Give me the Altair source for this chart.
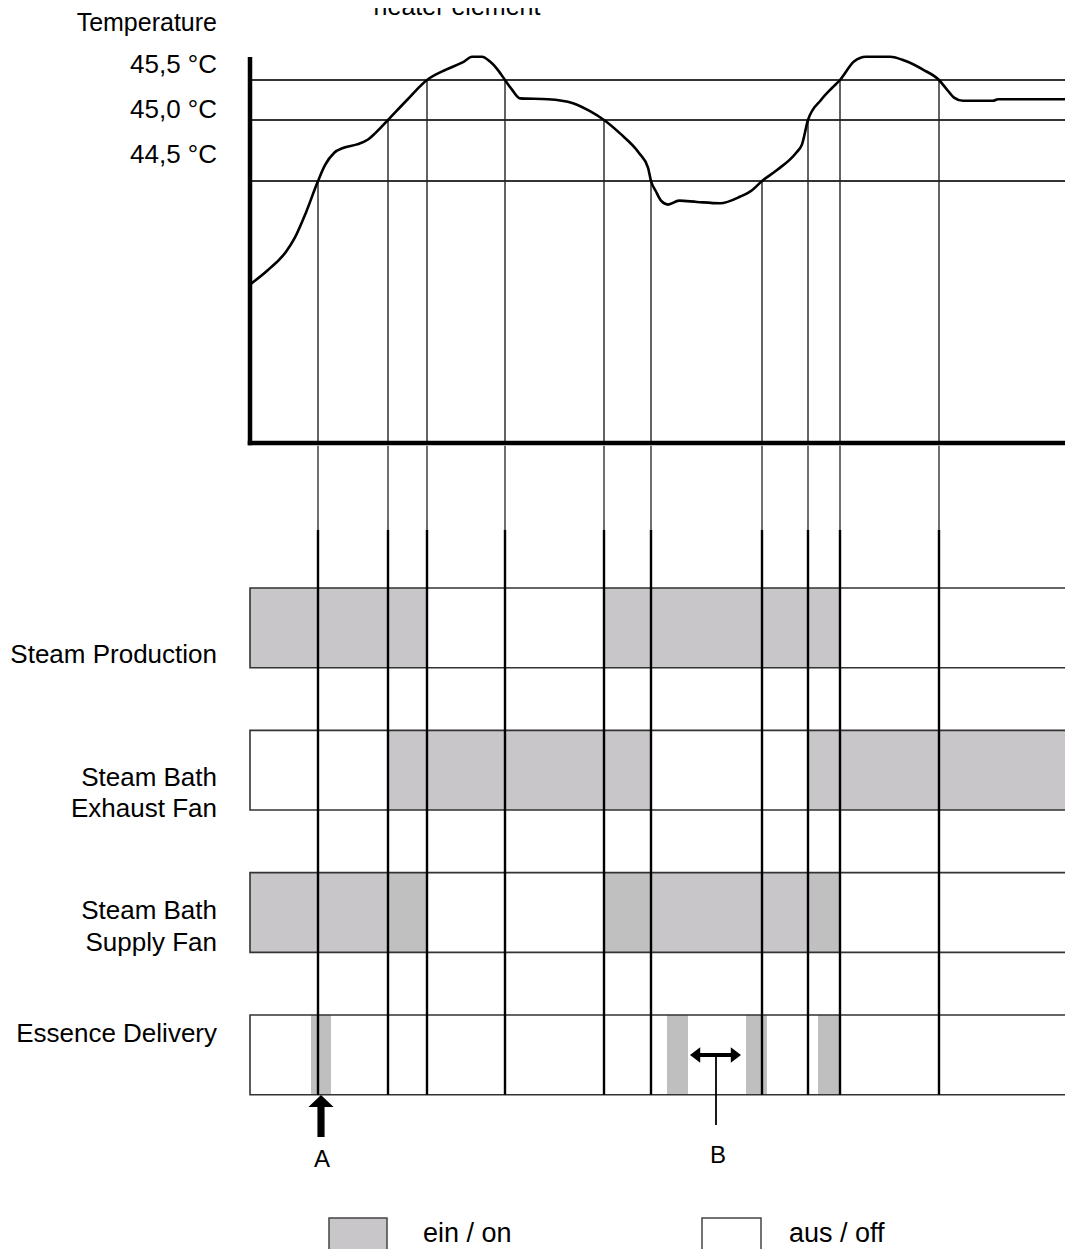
import altair as alt
import pandas as pd

# ---------------- data ----------------
# temperature curve: time (arbitrary units) and temperature in °C
curve_t = [0, 18, 36, 45, 56, 68, 75, 84, 93, 107, 118, 125, 138, 157, 177,
           196, 214, 222, 232, 240, 247, 255, 262, 270, 298, 323, 340, 354, 370, 389,
           398, 401, 406, 411, 418, 429, 447, 470, 490, 502, 512, 527, 546, 552, 558,
           571, 582, 590, 604, 616, 640, 655, 673, 689, 697, 704, 713, 743, 748, 823]
curve_temp = [43.71, 43.82, 43.96, 44.07, 44.26, 44.50, 44.63, 44.73, 44.77, 44.80,
              44.84, 44.89, 45.00, 45.25, 45.50, 45.63, 45.73, 45.79, 45.79, 45.73,
              45.64, 45.50, 45.38, 45.27, 45.26, 45.21, 45.11, 45.00, 44.89, 44.73,
              44.61, 44.50, 44.42, 44.35, 44.32, 44.35, 44.34, 44.33, 44.38, 44.43,
              44.50, 44.59, 44.73, 44.80, 45.00, 45.25, 45.40, 45.50, 45.73, 45.79,
              45.79, 45.74, 45.63, 45.50, 45.38, 45.28, 45.24, 45.24, 45.26, 45.26]

threshold_temps = [45.5, 45.0, 44.5]
threshold_labels = ["45,5 °C", "45,0 °C", "44,5 °C"]

# switching events (where the curve crosses a threshold)
event_t = [68, 138, 177, 255, 354, 401, 512, 558, 590, 689]
event_temp = [44.5, 45.0, 45.5, 45.5, 45.0, 44.5, 44.5, 45.0, 45.5, 45.5]

row_labels = [["Steam Production"], ["Steam Bath", "Exhaust Fan"],
              ["Steam Bath", "Supply Fan"], ["Essence Delivery"]]

# "on" segments of each row
seg_row = [0, 0, 1, 1, 2, 2, 2, 2, 2, 3, 3, 3, 3]
seg_start = [0, 354, 138, 558, 0, 138, 354, 401, 558, 61, 417, 496, 568]
seg_end = [177, 590, 401, 823, 138, 177, 401, 558, 590, 81, 438, 517, 590]
seg_tone = ["on", "on", "on", "on", "on", "on2", "on2", "on", "on2",
            "pulse", "pulse", "pulse", "pulse"]

legend_labels = ["ein / on", "aus / off"]
title_text = "Temperature"
top_text = "heater element"
marker_labels = ["A", "B"]

t_end = 823
temp_floor = 42.5
temp_axis_top = 45.76

# ---------------- scales ----------------
FONT = "Liberation Sans"
x_scale = alt.Scale(domain=[-242, 815], nice=False, zero=False)
temp_scale = alt.Scale(domain=[42.5, 44.5, 45.0, 45.5, 46.0],
                       range=[435, 173, 112, 72, 32], nice=False, zero=False)
lane_scale = alt.Scale(domain=[0, 4], range=[580, 1149.33], nice=False, zero=False)


def X(f):
    return alt.X(f, type="quantitative", scale=x_scale, axis=None)


def YT(f):
    return alt.Y(f, type="quantitative", scale=temp_scale, axis=None)


def YL(f):
    return alt.Y(f, type="quantitative", scale=lane_scale, axis=None)


# ---------------- tables ----------------
curve_df = pd.DataFrame({"t": curve_t, "temp": curve_temp})
grid_df = pd.DataFrame({"temp": threshold_temps, "t0": 0, "t1": t_end})
event_df = pd.DataFrame({"t": event_t, "temp": event_temp})
event_df["floor"] = temp_floor
event_df["la"] = -1.0
event_df["lb"] = -0.41
event_df["lc"] = 3.56
axis_df = pd.DataFrame({"t0": [0], "t1": [t_end], "lo": [temp_floor], "hi": [temp_axis_top]})
row_df = pd.DataFrame({"row": list(range(len(row_labels)))})
row_df["t0"] = 0
row_df["t1"] = t_end
row_df["top"] = row_df["row"]
row_df["bottom"] = row_df["row"] + 0.56
seg_df = pd.DataFrame({"row": seg_row, "t0": seg_start, "t1": seg_end, "tone": seg_tone})
seg_df["top"] = seg_df["row"]
seg_df["bottom"] = seg_df["row"] + 0.56

layers = []

# row backgrounds
layers.append(alt.Chart(row_df).mark_rect(color="white").encode(
    x=X("t0"), x2="t1:Q", y=YL("top"), y2="bottom:Q"))
# on segments
layers.append(alt.Chart(seg_df).mark_rect().encode(
    x=X("t0"), x2="t1:Q", y=YL("top"), y2="bottom:Q",
    color=alt.Color("tone:N", legend=None,
                    scale=alt.Scale(domain=["on", "on2", "pulse"],
                                    range=["#c9c6ca", "#c0c0c0", "#bfbfbf"]))))
# row outlines
layers.append(alt.Chart(row_df).mark_rect(fill="transparent", stroke="#333",
                                          strokeWidth=1.6).encode(
    x=X("t0"), x2="t1:Q", y=YL("top"), y2="bottom:Q"))

# threshold lines
layers.append(alt.Chart(grid_df).mark_rule(color="#333", strokeWidth=1.8).encode(
    x=X("t0"), x2="t1:Q", y=YT("temp")))
# event lines in the temperature plot
layers.append(alt.Chart(event_df).mark_rule(color="#222", strokeWidth=1.4).encode(
    x=X("t"), y=YT("temp"), y2="floor:Q"))
# temperature curve
layers.append(alt.Chart(curve_df).mark_line(color="black", strokeWidth=2.6,
                                            interpolate="monotone").encode(
    x=X("t"), y=YT("temp")))
# axes
layers.append(alt.Chart(axis_df).mark_rule(color="black", strokeWidth=4.5,
                                           strokeCap="square").encode(
    x=X("t0"), y=YT("lo"), y2="hi:Q"))
layers.append(alt.Chart(axis_df).mark_rule(color="black", strokeWidth=4.5,
                                           strokeCap="square").encode(
    x=X("t0"), x2="t1:Q", y=YT("lo")))
# event lines below the plot
layers.append(alt.Chart(event_df).mark_rule(color="#222", strokeWidth=1.3).encode(
    x=X("t"), y=YL("la"), y2="lb:Q"))
layers.append(alt.Chart(event_df).mark_rule(color="black", strokeWidth=2.4).encode(
    x=X("t"), y=YL("lb"), y2="lc:Q"))


def label(text, x, y, size=26, align="right", baseline="alphabetic"):
    return alt.Chart(pd.DataFrame({"s": [text]})).mark_text(
        align=align, baseline=baseline, fontSize=size, font=FONT, color="black"
    ).encode(x=alt.value(x), y=alt.value(y), text="s:N")


layers.append(label(top_text, 449, 7, size=25, align="center"))
layers.append(label(title_text, 209, 23, size=25))
for txt, yy in zip(threshold_labels, [65, 110, 155]):
    layers.append(label(txt, 209, yy))
row_label_y = [[655], [778, 809], [911, 943], [1034]]
for lines, ys in zip(row_labels, row_label_y):
    for txt, yy in zip(lines, ys):
        layers.append(label(txt, 209, yy))

# marker A: upward arrow
arrow_up = ("M-0.17,1 L-0.17,-0.43 L-0.6,-0.43 L0,-1 L0.6,-0.43 "
            "L0.17,-0.43 L0.17,1 Z")
layers.append(alt.Chart(pd.DataFrame({"k": [0]})).mark_point(
    shape=arrow_up, filled=True, color="black", opacity=1, size=1764).encode(
    x=alt.value(313), y=alt.value(1108)))
layers.append(label(marker_labels[0], 314, 1159, size=24, align="center"))

# marker B: double arrow with a leader line
arrow_lr = ("M-1,0 L-0.6,-0.3 L-0.6,-0.08 L0.6,-0.08 L0.6,-0.3 L1,0 "
            "L0.6,0.3 L0.6,0.08 L-0.6,0.08 L-0.6,0.3 Z")
layers.append(alt.Chart(pd.DataFrame({"k": [0]})).mark_rule(
    color="black", strokeWidth=1.8).encode(
    x=alt.value(708), y=alt.value(1048), y2=alt.value(1117)))
layers.append(alt.Chart(pd.DataFrame({"k": [0]})).mark_point(
    shape=arrow_lr, filled=True, color="black", opacity=1, size=2601).encode(
    x=alt.value(707.5), y=alt.value(1047)))
layers.append(label(marker_labels[1], 710, 1155, size=24, align="center"))

# legend
layers.append(alt.Chart(pd.DataFrame({"k": [0]})).mark_rect(
    fill="#c9c6ca", stroke="#444", strokeWidth=1.5).encode(
    x=alt.value(321), x2=alt.value(379), y=alt.value(1210), y2=alt.value(1262)))
layers.append(alt.Chart(pd.DataFrame({"k": [0]})).mark_rect(
    fill="white", stroke="#444", strokeWidth=1.5).encode(
    x=alt.value(694), x2=alt.value(753), y=alt.value(1210), y2=alt.value(1262)))
layers.append(label(legend_labels[0], 415, 1234, size=27, align="left"))
layers.append(label(legend_labels[1], 781, 1234, size=27, align="left"))

chart = alt.layer(*layers).properties(
    width=1057, height=1241, padding=0,
    autosize=alt.AutoSizeParams(type="none"),
    background="white",
).resolve_scale(y="independent").configure_view(stroke=None)

chart.save("out.html", embed_options={"renderer": "svg", "actions": False})
